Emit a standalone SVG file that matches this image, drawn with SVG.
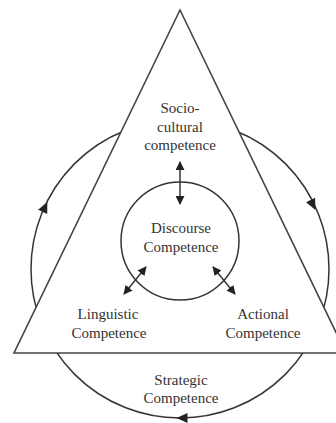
<svg xmlns="http://www.w3.org/2000/svg" width="336" height="423" viewBox="0 0 336 423">
<defs>
<style>
.ln{fill:none;stroke:#333;stroke-width:1.5}
.tri{fill:#fff;stroke:#444;stroke-width:1.6}
.ah{fill:#222}
text{font-family:"Liberation Serif","Times New Roman",serif;font-size:15px;fill:#333;text-anchor:middle}
</style>
<marker id="arr" viewBox="0 0 10 10" refX="9" refY="5" markerWidth="9" markerHeight="9" markerUnits="userSpaceOnUse" orient="auto-start-reverse">
<path d="M0,0 L10,5 L0,10 Z" fill="#222"/>
</marker>
</defs>
<rect width="336" height="423" fill="#fff"/>
<g id="strategic">
<circle class="ln" cx="180" cy="269" r="149"/>
</g>
<g id="triangle">
<polygon class="tri" points="180,10 14,353 346,353"/>
</g>
<g id="connectors">
<polygon class="ah" points="5.5,0 -5.5,-5 -5.5,5" transform="translate(45,207) rotate(-65)"/>
<polygon class="ah" points="5.5,0 -5.5,-5 -5.5,5" transform="translate(313,205) rotate(64)"/>
<polygon class="ah" points="5.5,0 -5.5,-5 -5.5,5" transform="translate(182,418) rotate(180)"/>
<line class="ln" x1="180" y1="162" x2="180" y2="204" marker-start="url(#arr)" marker-end="url(#arr)"/>
<line class="ln" x1="124" y1="294" x2="146" y2="267" marker-start="url(#arr)" marker-end="url(#arr)"/>
<line class="ln" x1="213" y1="267" x2="235" y2="294" marker-start="url(#arr)" marker-end="url(#arr)"/>
</g>
<g id="discourse">
<circle class="ln" cx="180" cy="241" r="59"/>
<text x="181" y="233">Discourse</text>
<text x="181" y="252">Competence</text>
</g>
<g id="sociocultural">
<text x="180" y="113">Socio-</text>
<text x="180" y="132">cultural</text>
<text x="180" y="150">competence</text>
</g>
<g id="linguistic">
<text x="108" y="319">Linguistic</text>
<text x="109" y="338">Competence</text>
</g>
<g id="actional">
<text x="263" y="319">Actional</text>
<text x="263" y="338">Competence</text>
</g>
<g id="strategic-label">
<text x="181" y="385">Strategic</text>
<text x="181" y="403">Competence</text>
</g>
</svg>
